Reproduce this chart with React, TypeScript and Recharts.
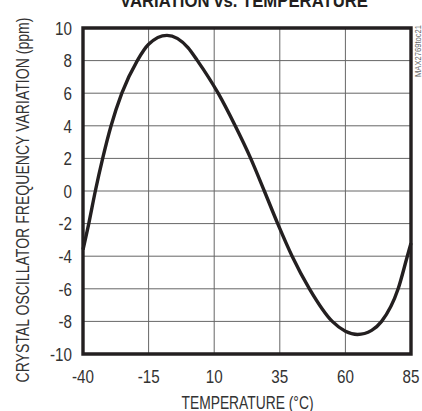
import React from "react";
import { LineChart, Line, XAxis, YAxis, CartesianGrid, ReferenceArea } from "recharts";

const temperatures = [-40, -37.8, -35.3, -32.5, -29.3, -25.2, -19.3, -15, -8, 0, 3.6, 11.5, 18, 23.9, 29.1, 34.2, 39.7, 46.3, 55, 60, 64.6, 70, 73.8, 80.1, 83.6, 85];
const variation = [-3.6, -2, 0, 2, 4, 6, 8, 9.0, 9.55, 8.8, 8, 6, 4, 2, 0, -2, -4, -6, -8, -8.6, -8.8, -8.55, -8, -6, -4, -3.2];
const xTicks = [-40, -15, 10, 35, 60, 85];
const yTicks = [-10, -8, -6, -4, -2, 0, 2, 4, 6, 8, 10];

const data = temperatures.map((t, i) => ({ t, v: variation[i] }));

const FONT = "'Liberation Sans', Arial, sans-serif";
const INK = "#231f20";
const TEXT = "#333";

const XTick = (props: any) => {
  const { x, y, payload } = props;
  return (
    <text transform={`translate(${x},${y}) scale(0.8,1)`} textAnchor="middle" dy="0.71em" fontSize={19} fill={TEXT} fontFamily={FONT}>
      {payload.value}
    </text>
  );
};

const YTick = (props: any) => {
  const { x, y, payload } = props;
  return (
    <text transform={`translate(${x},${y}) scale(0.8,1)`} textAnchor="end" dy="0.355em" fontSize={19} fill={TEXT} fontFamily={FONT}>
      {payload.value}
    </text>
  );
};

export default function App() {
  return (
    <div style={{ position: "absolute", left: 0, top: 0, width: 422, height: 411, background: "#fff" }}>
      <LineChart width={422} height={411} data={data} margin={{ top: 28, right: 11, left: 0, bottom: 0 }}>
        <CartesianGrid stroke="#666" strokeWidth={1} horizontalValues={yTicks} verticalValues={xTicks} />
        <XAxis
          dataKey="t"
          type="number"
          domain={[-40, 85]}
          ticks={xTicks}
          axisLine={false}
          tickLine={false}
          height={57}
          tickMargin={10}
          interval={0}
          tick={<XTick />}
        />
        <YAxis
          type="number"
          domain={[-10, 10]}
          ticks={yTicks}
          axisLine={false}
          tickLine={false}
          width={83}
          tickMargin={5}
          interval={0}
          tick={<YTick />}
        />
        <ReferenceArea x1={-40} x2={85} y1={-10} y2={10} fill="none" stroke={INK} strokeWidth={3.4} ifOverflow="visible" />
        <Line type="monotone" dataKey="v" stroke={INK} strokeWidth={3.4} dot={false} isAnimationActive={false} />
      </LineChart>
      <svg width={422} height={411} style={{ position: "absolute", left: 0, top: 0, pointerEvents: "none" }}>
        <text x={244} y={6.5} textAnchor="middle" fontSize={18} fontWeight="bold" fill={INK} fontFamily={FONT} textLength={248} lengthAdjust="spacingAndGlyphs">VARIATION vs. TEMPERATURE</text>
        <text x={247.5} y={409} textAnchor="middle" fontSize={18} fill={TEXT} fontFamily={FONT} textLength={132} lengthAdjust="spacingAndGlyphs">TEMPERATURE (°C)</text>
        <text transform="translate(28.5,200) rotate(-90)" textAnchor="middle" fontSize={18} fill={TEXT} fontFamily={FONT} textLength={365} lengthAdjust="spacingAndGlyphs">CRYSTAL OSCILLATOR FREQUENCY VARIATION (ppm)</text>
        <text transform="translate(421,77) rotate(-90)" textAnchor="start" fontSize={9} fill="#666" fontFamily={FONT} textLength={52} lengthAdjust="spacingAndGlyphs">MAX2769toc21</text>
      </svg>
    </div>
  );
}
